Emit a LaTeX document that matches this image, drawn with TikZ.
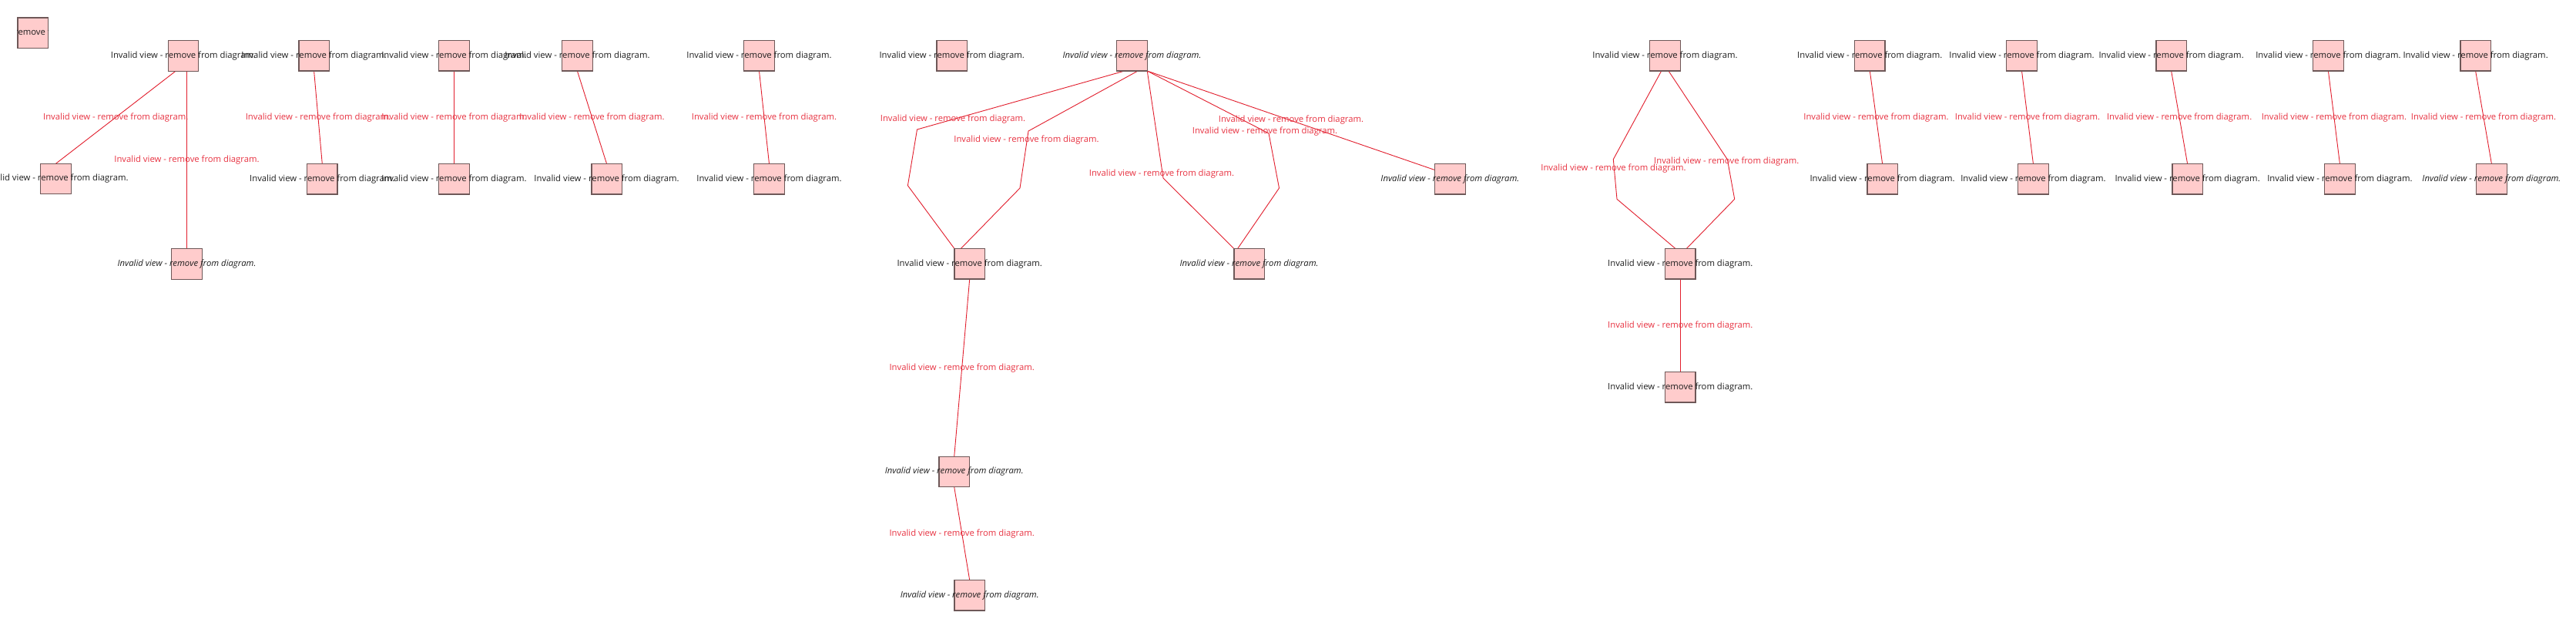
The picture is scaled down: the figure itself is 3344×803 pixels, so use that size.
\documentclass[tikz,border=0pt]{standalone}
\usepackage{fontspec}
\setmainfont{Open Sans}
\usetikzlibrary{backgrounds}
\definecolor{boxfill}{RGB}{255,204,204}
\definecolor{boxline}{RGB}{110,88,88}
\definecolor{edgered}{RGB}{226,30,45}
\definecolor{edgetext}{RGB}{232,50,65}
\definecolor{nodetext}{RGB}{30,30,30}
\newcommand{\invtext}{Invalid view - remove from diagram.}
\newcommand{\lblfont}{\fontsize{11.3}{13.6}\selectfont}
\tikzset{
  boxbase/.style={draw=boxline, fill=boxfill, line width=1.3pt, minimum width=39.5pt, minimum height=39.5pt, inner sep=0pt, outer sep=0pt},
  vtext/.style={text=nodetext, font=\lblfont, inner sep=0pt},
  vbox/.style={boxbase, label={[vtext]center:\invtext}},
  ivbox/.style={boxbase, label={[vtext, font=\lblfont\itshape]center:\invtext}},
  elbl/.style={text=edgetext, font=\lblfont, inner sep=0pt},
  conn/.style={draw=edgered, line width=0.9pt, line join=round}
}
\begin{document}
\begin{tikzpicture}[x=1pt,y=-1pt]
\useasboundingbox (0,0) rectangle (3344,803);
% ---- nodes ----
\node[boxbase] (A0) at (42.7,42.7) {};
\begin{scope}
  \clip (A0.south west) rectangle (A0.north east);
  \node[vtext] (A0t) at (A0) {\invtext};
\end{scope}
\node[vbox]  (B)  at (238,72.5) {};
\node[vbox]  (C)  at (72.5,232) {};
\node[ivbox] (D)  at (242.5,342.5) {};
\node[vbox]  (E)  at (407.6,72.3) {};
\node[vbox]  (H)  at (418.3,232.3) {};
\node[vbox]  (F)  at (589.4,72.3) {};
\node[vbox]  (I)  at (589.4,232.3) {};
\node[vbox]  (G)  at (749.4,72.3) {};
\node[vbox]  (J)  at (787.6,232.3) {};
\node[vbox]  (K)  at (985.5,72.3) {};
\node[vbox]  (L)  at (998.5,232.3) {};
\node[vbox]  (M)  at (1235.7,72.3) {};
\node[ivbox] (N)  at (1469.5,72.3) {};
\node[vbox]  (O)  at (1258.7,342.3) {};
\node[ivbox] (P)  at (1621.6,342.3) {};
\node[ivbox] (Q)  at (1882.4,232.3) {};
\node[ivbox] (R)  at (1238.7,612) {};
\node[ivbox] (S)  at (1258.7,772.3) {};
\node[vbox]  (T)  at (2161.5,72.3) {};
\node[vbox]  (U)  at (2181.3,342.3) {};
\node[vbox]  (V)  at (2181.3,502.3) {};
\node[vbox]  (W)  at (2427.3,72.3) {};
\node[vbox]  (W2) at (2443.6,232.3) {};
\node[vbox]  (X)  at (2624.5,72.3) {};
\node[vbox]  (X2) at (2639.4,232.3) {};
\node[vbox]  (Y)  at (2818.6,72.3) {};
\node[vbox]  (Y2) at (2839.6,232.3) {};
\node[vbox]  (Z)  at (3022.4,72.3) {};
\node[vbox]  (Z2) at (3037.4,232.3) {};
\node[vbox]  (AA) at (3213.6,72.3) {};
\node[ivbox] (AA2) at (3234.4,232.3) {};
% ---- bend points ----
\coordinate (n1a) at (1190.5,168);
\coordinate (n1b) at (1178.4,240.7);
\coordinate (n2a) at (1335,170);
\coordinate (n2b) at (1324,244);
\coordinate (n3a) at (1510,231);
\coordinate (n4a) at (1647,173);
\coordinate (n4b) at (1660.5,244);
\coordinate (tla) at (2094.3,206.7);
\coordinate (tlb) at (2099,258.3);
\coordinate (tra) at (2242.3,206.7);
\coordinate (trb) at (2251.7,258.3);
% ---- connectors ----
\begin{scope}[on background layer]
\fill[white] (0,0) rectangle (3344,803);
\draw[conn] ([xshift=-10pt]B.south) -- node[elbl] (lBC) {\invtext} (C.north);
\draw[conn] ([xshift=4.5pt]B.south) -- node[elbl] (lBD) {\invtext} (D.north);
\draw[conn] (E.south) -- node[elbl] (lEH) {\invtext} (H.north);
\draw[conn] (F.south) -- node[elbl] (lFI) {\invtext} (I.north);
\draw[conn] (G.south) -- node[elbl] (lGJ) {\invtext} (J.north);
\draw[conn] (K.south) -- node[elbl] (lKL) {\invtext} (L.north);
\draw[conn] ([xshift=-9.8pt]N.south) -- (n1a) -- (n1b) -- (O.north west);
\draw[conn] ([xshift=7.5pt]N.south) -- (n2a) -- (n2b) -- ([xshift=-11.4pt]O.north);
\draw[conn] (N.south east) -- (n3a) -- (P.north west);
\draw[conn] (N.south east) -- (n4a) -- (n4b) -- ([xshift=-15pt]P.north);
\draw[conn] (N.south east) -- ([yshift=-8pt]Q.north west);
\node[elbl] (lNO1) at (1237,155) {\invtext};
\node[elbl] (lNO2) at (1332.5,182) {\invtext};
\node[elbl] (lNP1) at (1508,226) {\invtext};
\node[elbl] (lNP2) at (1642,171) {\invtext};
\node[elbl] (lNQ)  at (1676,156) {\invtext};
\draw[conn] (O.south) -- node[elbl] (lOR) {\invtext} (R.north);
\draw[conn] (R.south) -- node[elbl] (lRS) {\invtext} (S.north);
\draw[conn] ([xshift=-4.8pt]T.south) -- (tla) -- (tlb) -- ([xshift=-6.3pt]U.north);
\draw[conn] ([xshift=4.5pt]T.south) -- (tra) -- (trb) -- ([xshift=8pt]U.north);
\node[elbl] (lTU1) at (2094.5,218.3) {\invtext};
\node[elbl] (lTU2) at (2241.3,210) {\invtext};
\draw[conn] (U.south) -- node[elbl] (lUV) {\invtext} (V.north);
\draw[conn] (W.south) -- node[elbl] (lWW) {\invtext} (W2.north);
\draw[conn] (X.south) -- node[elbl] (lXX) {\invtext} (X2.north);
\draw[conn] (Y.south) -- node[elbl] (lYY) {\invtext} (Y2.north);
\draw[conn] (Z.south) -- node[elbl] (lZZ) {\invtext} (Z2.north);
\draw[conn] (AA.south) -- node[elbl] (lAA) {\invtext} (AA2.north);
\end{scope}
\end{tikzpicture}
\end{document}
